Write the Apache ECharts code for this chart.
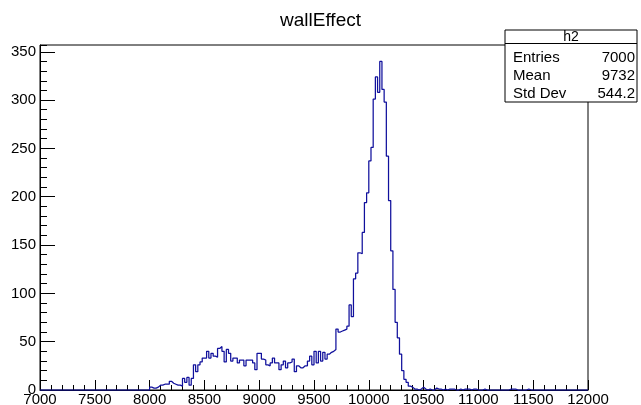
<!DOCTYPE html>
<html>
<head>
<meta charset="utf-8">
<title>wallEffect</title>
<script src="https://cdn.jsdelivr.net/npm/echarts@6/dist/echarts.min.js"></script>
<style>
html, body { margin: 0; padding: 0; background: #ffffff; }
#chart { width: 641px; height: 405px; }
</style>
</head>
<body>
<div id="chart"></div>
<script>
const histName = "h2";
const histTitle = "wallEffect";
const binLow = 7000;
const binWidth = 20;
// bin contents, one row per 500 on the x axis (25 bins of 20)
const counts = [
  0, 0, 0, 0, 0, 0, 0, 0, 0, 0, 0, 0, 0, 0, 0, 0, 0, 0, 0, 0, 0, 0, 0, 0, 0,
  0, 0, 0, 0, 0, 0, 0, 0, 0, 0, 0, 0, 0, 0, 0, 0, 0, 0, 0, 0, 0, 0, 0, 0, 0,
  3, 2, 2, 3, 5, 5, 6, 6, 6, 9, 7, 6, 5, 5, 4, 12, 8, 13, 5, 12, 26, 19, 26, 29, 33,
  33, 40, 33, 38, 35, 34, 43, 45, 40, 29, 42, 38, 30, 33, 33, 28, 31, 31, 25, 31, 31, 31, 28, 21, 38,
  38, 32, 31, 26, 25, 28, 33, 28, 28, 21, 26, 30, 23, 28, 29, 32, 19, 25, 23, 23, 25, 25, 30, 35, 26,
  40, 28, 40, 30, 39, 32, 37, 39, 40, 42, 63, 60, 61, 62, 63, 66, 88, 76, 115, 121, 142, 141, 163, 194, 204,
  237, 251, 301, 324, 308, 340, 311, 298, 242, 196, 144, 104, 70, 54, 37, 20, 11, 8, 4, 3, 1, 1, 0, 1, 3,
  1, 0, 1, 0, 0, 2, 1, 1, 0, 1, 0, 1, 1, 1, 0, 0, 1, 0, 1, 1, 1, 0, 1, 1, 0,
  0, 0, 1, 0, 0, 0, 0, 0, 0, 0, 0, 0, 0, 0, 1, 1, 1, 0, 0, 0, 0, 0, 1, 0, 0,
  0, 0, 0, 0, 0, 0, 0, 0, 0, 0, 0, 0, 0, 0, 0, 0, 0, 0, 0, 0, 0, 0, 0, 0, 0
];
const statLabels = ["Entries", "Mean", "Std Dev"];
const statValues = ["7000", "9732", "544.2"];

const xMin = 7000;
const xMax = 12000;
const yMax = Math.max(...counts) * 1.05;

const steps = counts.map((c, i) => [binLow + i * binWidth, c]);
steps.push([binLow + counts.length * binWidth, counts[counts.length - 1]]);

const myChart = echarts.init(document.getElementById("chart"), null, { renderer: "canvas" });

const font = "Liberation Sans, Arial, Helvetica, sans-serif";
const black = "#000000";

// stats box (top right)
const boxX = 505, boxY = 30, boxW = 132, boxH = 72;
const statGraphics = [
  {
    type: "rect",
    shape: { x: boxX, y: boxY, width: boxW, height: boxH },
    style: { fill: "#ffffff", stroke: black, lineWidth: 1 },
    z: 100,
  },
  {
    type: "line",
    shape: { x1: boxX, y1: 43.5, x2: boxX + boxW, y2: 43.5 },
    style: { stroke: black, lineWidth: 1 },
    z: 101,
  },
  {
    type: "text",
    x: boxX + boxW / 2,
    y: 37,
    style: { text: histName, fontFamily: font, fontSize: 14, fill: black, align: "center", verticalAlign: "middle" },
    z: 101,
  },
];
statLabels.forEach((label, i) => {
  const y = 58 + i * 18;
  statGraphics.push({
    type: "text",
    x: boxX + 8,
    y: y,
    style: { text: label, fontFamily: font, fontSize: 15, fill: black, align: "left", verticalAlign: "middle" },
    z: 101,
  });
  statGraphics.push({
    type: "text",
    x: boxX + boxW - 2,
    y: y,
    style: { text: statValues[i], fontFamily: font, fontSize: 15, fill: black, align: "right", verticalAlign: "middle" },
    z: 101,
  });
});

const option = {
  animation: false,
  backgroundColor: "#ffffff",
  title: {
    text: histTitle,
    left: "center",
    top: 6,
    textStyle: { fontFamily: font, fontSize: 19, fontWeight: "normal", color: black },
  },
  grid: {
    left: 40,
    right: 53,
    top: 45,
    bottom: 15,
    show: true,
    borderColor: black,
    borderWidth: 1,
    backgroundColor: "transparent",
    containLabel: false,
    outerBoundsMode: "none",
  },
  xAxis: {
    type: "value",
    min: xMin,
    max: xMax,
    interval: 500,
    axisLine: { show: true, onZero: false, lineStyle: { color: black, width: 1 } },
    axisTick: { show: true, inside: true, length: 10, lineStyle: { color: black } },
    minorTick: { show: true, splitNumber: 5, length: 5, lineStyle: { color: black } },
    splitLine: { show: false },
    axisLabel: {
      fontFamily: font,
      fontSize: 15,
      color: black,
      margin: 2,
      formatter: (v) => String(v),
    },
  },
  yAxis: [
    {
      type: "value",
      min: 0,
      max: yMax,
      interval: 50,
      position: "left",
      axisLine: { show: true, lineStyle: { color: black, width: 1 } },
      axisTick: { show: true, inside: true, length: 15, lineStyle: { color: black } },
      splitLine: { show: false },
      axisLabel: {
        fontFamily: font,
        fontSize: 15,
        color: black,
        margin: 4,
        showMaxLabel: false,
        formatter: (v) => (v % 50 === 0 ? String(v) : ""),
      },
    },
    {
      type: "value",
      min: 0,
      max: yMax,
      interval: 10,
      position: "left",
      offset: 0,
      axisLine: { show: false },
      axisTick: { show: true, inside: true, length: 7, lineStyle: { color: black } },
      splitLine: { show: false },
      axisLabel: { show: false },
    },
  ],
  series: [
    {
      name: histName,
      type: "line",
      step: "end",
      data: steps,
      symbol: "none",
      showSymbol: false,
      lineStyle: { color: "#10109c", width: 1.25 },
      clip: true,
      z: 5,
    },
  ],
  graphic: statGraphics,
};

myChart.setOption(option);
window.addEventListener("resize", () => {
  myChart.resize();
});
</script>
</body>
</html>
